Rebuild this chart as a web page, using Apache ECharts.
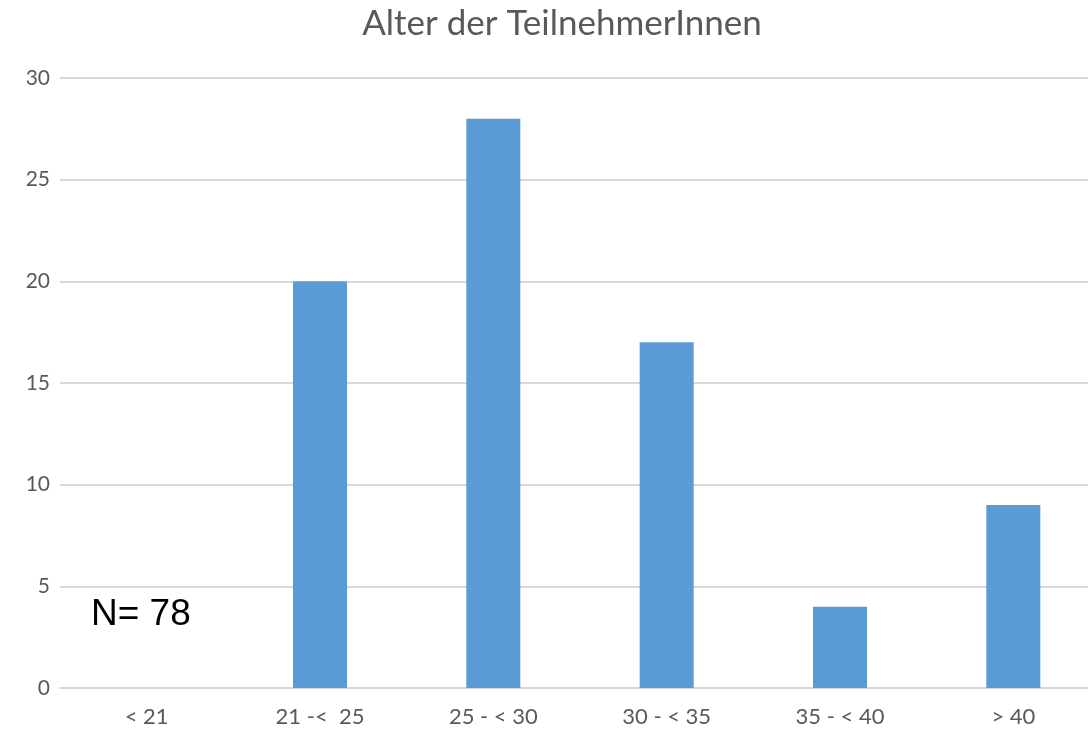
<!DOCTYPE html>
<html>
<head>
<meta charset="utf-8">
<script src="https://cdn.jsdelivr.net/npm/echarts@6/dist/echarts.min.js"></script>
<style>html,body{margin:0;padding:0;background:#fff;overflow:hidden;width:1088px;height:732px;}#chart{width:1124px;height:732px;}</style>
</head>
<body>
<div id="chart"></div>
<script>
const categories = ["< 21", "21 -<  25", "25 - < 30", "30 - < 35", "35 - < 40", "> 40"];
const counts = [0, 20, 28, 17, 4, 9];
const titleText = "Alter der TeilnehmerInnen";
const noteText = "N= 78";

const chart = echarts.init(document.getElementById('chart'));
chart.setOption({
  animation: false,
  backgroundColor: '#ffffff',
  title: {
    text: titleText,
    left: 'center',
    top: 1,
    textStyle: { fontFamily: 'Lato', fontWeight: 'normal', fontSize: 35, color: '#595959' }
  },
  grid: { left: 60, right: 24, top: 78, bottom: 44 },
  xAxis: {
    type: 'category',
    data: categories,
    axisLine: { show: true, lineStyle: { color: '#d9d9d9', width: 2 } },
    axisTick: { show: false },
    axisLabel: { fontFamily: 'Lato', fontSize: 22, color: '#595959', margin: 18 }
  },
  yAxis: {
    type: 'value',
    min: 0, max: 30, interval: 5,
    axisLine: { show: false },
    axisTick: { show: false },
    splitLine: { lineStyle: { color: '#d9d9d9', width: 2 } },
    axisLabel: { fontFamily: 'Lato', fontSize: 21, color: '#595959', margin: 10 }
  },
  series: [{
    type: 'bar',
    data: counts,
    barWidth: 54,
    itemStyle: { color: '#5b9bd5' }
  }],
  graphic: [{
    type: 'text',
    left: 91,
    top: 596,
    style: { text: noteText, fontFamily: 'Liberation Sans', fontSize: 37, fill: '#000000' }
  }]
});
</script>
</body>
</html>
